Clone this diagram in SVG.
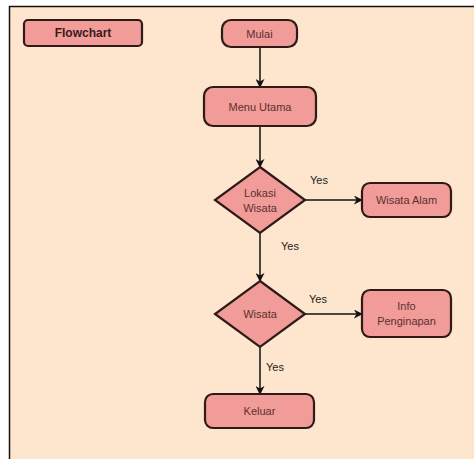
<svg xmlns="http://www.w3.org/2000/svg" width="474" height="459" viewBox="0 0 474 459">
<defs>
<style>
.n{fill:#F19C99;stroke:#2e1a18;stroke-width:2.2}
.t{font-family:"Liberation Sans",Arial,sans-serif;font-size:11px;fill:#5a3030;text-anchor:middle;dominant-baseline:central}
.b{font-weight:bold;font-size:12px;fill:#3a1a1a}
.l{font-family:"Liberation Sans",Arial,sans-serif;font-size:11px;fill:#222;text-anchor:middle;dominant-baseline:central}
.e{stroke:#111;stroke-width:1.5;fill:none;marker-end:url(#a)}
</style>
<marker id="a" viewBox="0 0 10 10" refX="9" refY="5" markerWidth="9" markerHeight="9" orient="auto" markerUnits="userSpaceOnUse"><path d="M0,0 L10,5 L0,10 L3,5 Z" fill="#111"/></marker>
</defs>
<rect x="0" y="0" width="474" height="459" fill="#fff"/>
<rect x="9.5" y="6.5" width="470" height="460" fill="#FEE5CD" stroke="#1a1010" stroke-width="1.5"/>
<g id="connectors">
<path class="e" d="M260,47 V87"/>
<path class="e" d="M260,126 V167"/>
<path class="e" d="M305,200 H362"/>
<path class="e" d="M260,233 V281"/>
<path class="e" d="M305,314 H362"/>
<path class="e" d="M260,347 V394"/>
<text class="l" x="319" y="180">Yes</text>
<text class="l" x="290" y="246">Yes</text>
<text class="l" x="318" y="299">Yes</text>
<text class="l" x="275" y="367">Yes</text>
</g>
<g id="flowchart"><rect class="n" x="24" y="20" width="118" height="26" rx="4"/><text class="t b" x="83" y="33">Flowchart</text></g>
<g id="mulai"><rect class="n" x="222" y="20" width="75" height="27" rx="9"/><text class="t" x="259.5" y="33.5">Mulai</text></g>
<g id="menu"><rect class="n" x="204" y="87" width="112" height="39" rx="9"/><text class="t" x="260" y="106.5">Menu Utama</text></g>
<g id="lokasi"><polygon class="n" points="260,167 305,200 260,233 215,200"/><text class="t" x="260" y="193">Lokasi</text><text class="t" x="260" y="208">Wisata</text></g>
<g id="alam"><rect class="n" x="362" y="183" width="89" height="34" rx="8"/><text class="t" x="406.5" y="200">Wisata Alam</text></g>
<g id="wisata"><polygon class="n" points="260,281 305,314 260,347 215,314"/><text class="t" x="260" y="314">Wisata</text></g>
<g id="info"><rect class="n" x="362" y="290" width="89" height="47" rx="8"/><text class="t" x="406.5" y="306">Info</text><text class="t" x="406.5" y="321">Penginapan</text></g>
<g id="keluar"><rect class="n" x="205" y="394" width="109" height="34" rx="8"/><text class="t" x="259.5" y="411">Keluar</text></g>
</svg>
